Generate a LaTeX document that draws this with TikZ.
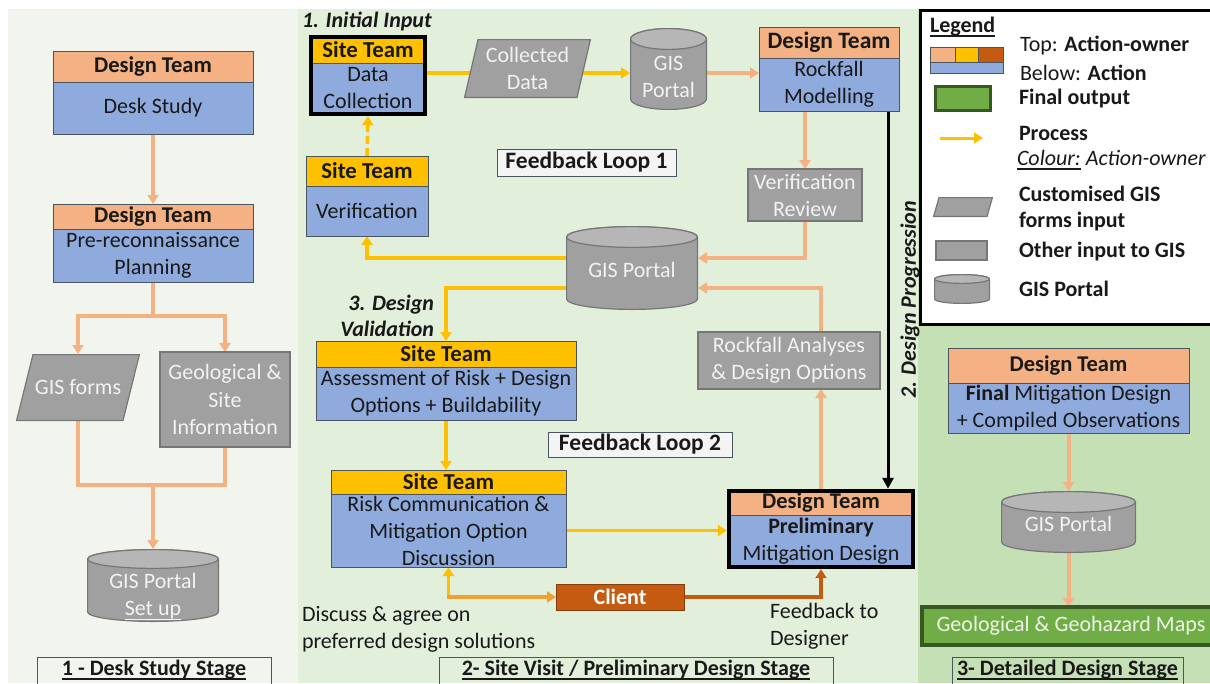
\documentclass[tikz,border=0pt]{standalone}
\usepackage{fontspec}
\setmainfont{Carlito}
\usetikzlibrary{arrows.meta,calc}

\pgfdeclarelayer{panels}
\pgfdeclarelayer{links}
\pgfsetlayers{panels,links,main}

\definecolor{ownerOrange}{HTML}{F4B183}
\definecolor{ownerYellow}{HTML}{FFC000}
\definecolor{ownerClient}{HTML}{C55A11}
\definecolor{clientEdge}{HTML}{843C0C}
\definecolor{actionBlue}{HTML}{8FAADC}
\definecolor{inputGray}{HTML}{A0A0A0}
\definecolor{inputEdge}{HTML}{767676}
\definecolor{portalTop}{HTML}{B6B6B6}
\definecolor{outputGreen}{HTML}{70AD47}
\definecolor{outputEdge}{HTML}{385723}
\definecolor{outputText}{HTML}{EEF5E8}
\definecolor{stageOne}{HTML}{F2F5EE}
\definecolor{stageTwo}{HTML}{E2EFDA}
\definecolor{stageThree}{HTML}{C5E0B4}
\definecolor{boxEdge}{HTML}{4A5560}
\definecolor{loopFill}{HTML}{F4F4F4}
\definecolor{lightText}{HTML}{F2F2F2}
\definecolor{mixFlow}{HTML}{F0A030}

% text block pushed down inside a shape without changing the node size
\newcommand\sunk[2]{\raisebox{#1}[0pt][0pt]{\begin{tabular}{@{}c@{}}#2\end{tabular}}}
\newcommand\lifted[2]{\raisebox{#1}[0pt][0pt]{#2}}
% underline at a fixed depth below the baseline
\newcommand\uln[1]{\setbox0=\hbox{#1}\rlap{\rule[-4.5pt]{\wd0}{1.5pt}}\box0\relax}

\tikzset{
  nodebase/.style={inner sep=0pt, outer sep=0pt, align=center, text=black!90,
    font=\fontsize{22}{27}\selectfont},
  sz/.style 2 args={minimum width=#1pt, minimum height=#2pt},
  owner/.style={nodebase, draw=boxEdge, line width=0.9pt,
    font=\bfseries\fontsize{22.5}{27}\selectfont},
  designer/.style={owner, fill=ownerOrange},
  siteteam/.style={owner, fill=ownerYellow, font=\bfseries\fontsize{22.8}{27}\selectfont},
  action/.style={nodebase, fill=actionBlue, draw=boxEdge, line width=0.9pt},
  grayinput/.style={nodebase, fill=inputGray, draw=inputEdge, line width=1.2pt, text=lightText},
  formshape/.style={nodebase, text=lightText,
    path picture={
      \filldraw[fill=inputGray, draw=inputEdge, line width=1.2pt]
        ([xshift=#1pt,yshift=-0.6pt]path picture bounding box.north west)
        -- ([xshift=-0.6pt,yshift=-0.6pt]path picture bounding box.north east)
        -- ([xshift=-#1pt,yshift=0.6pt]path picture bounding box.south east)
        -- ([xshift=0.6pt,yshift=0.6pt]path picture bounding box.south west) -- cycle;
    }},
  portal/.style 2 args={nodebase, text=lightText,
    path picture={
      \filldraw[fill=inputGray, draw=inputEdge, line width=1.2pt]
        ([xshift=0.6pt,yshift=-#2pt]path picture bounding box.north west)
        -- ([xshift=0.6pt,yshift=#2pt]path picture bounding box.south west)
        arc[start angle=180, end angle=360, x radius=0.5*#1-0.6, y radius=#2-0.6]
        -- ([xshift=-0.6pt,yshift=-#2pt]path picture bounding box.north east)
        arc[start angle=0, end angle=180, x radius=0.5*#1-0.6, y radius=#2-0.6]
        -- cycle;
      \filldraw[fill=portalTop, draw=inputEdge, line width=1.2pt]
        ([yshift=-#2pt]path picture bounding box.north)
        ellipse[x radius=0.5*#1-0.6, y radius=#2-0.6];
    }},
  keyframe/.style={draw=black, line width=4.5pt},
  loopbox/.style={nodebase, fill=loopFill, draw=boxEdge, line width=0.9pt,
    font=\bfseries\fontsize{23.5}{27}\selectfont},
  stagebox/.style={nodebase, draw=boxEdge, line width=0.9pt,
    font=\bfseries\fontsize{22}{27}\selectfont},
  clientbox/.style={nodebase, fill=ownerClient, draw=clientEdge, line width=1pt,
    text=white, font=\bfseries\fontsize{22}{27}\selectfont},
  output/.style={nodebase, fill=outputGreen, draw=outputEdge, line width=3.5pt, text=outputText},
  remark/.style={nodebase, font=\bfseries\itshape\fontsize{22}{26}\selectfont},
  note/.style={nodebase, align=left},
  legtext/.style={nodebase, anchor=west},
  swatch/.style={nodebase, draw=boxEdge, line width=0.6pt},
  flowO/.style={draw=ownerOrange, line width=4pt},
  flowY/.style={draw=ownerYellow, line width=3.6pt},
  mixflow/.style={draw=mixFlow, line width=3.6pt},
  clientflow/.style={draw=ownerClient, line width=3.6pt},
  arrowend/.style={-{Triangle[length=9pt,width=11pt]}},
}

\begin{document}
\begin{tikzpicture}[x=1pt,y=1pt]
\useasboundingbox (0,0) rectangle (1210,-683);
\clip (0,0) rectangle (1210,-683);

% stage panels
\begin{pgfonlayer}{panels}
  \fill[white] (0,0) rectangle (1210,-683);
  \fill[stageOne] (8,-9) rectangle (298,-683);
  \fill[stageTwo] (298,-9) rectangle (918,-683);
  \fill[stageThree] (918,-9) rectangle (1210,-683);
\end{pgfonlayer}

% ---------- stage 1: desk study ----------
\node[designer, sz={200}{31}] (p1h) at (153,-66.5) {Design Team};
\node[action, sz={200}{52}] (p1b) at (153,-108) {Desk Study};
\node[designer, sz={200}{25}] (p2h) at (153,-216.5) {Design Team};
\node[action, sz={200}{53}] (p2b) at (153,-255.5) {Pre-reconnaissance\\Planning};
\node[formshape=17, sz={124}{67}] (gisf) at (78,-387.5) {GIS forms};
\node[grayinput, sz={130}{95}, font=\fontsize{22}{27.5}\selectfont] (geo) at (225,-399.5)
  {Geological \&\\Site\\Information};
\node[portal={132}{10}, sz={132}{73}] (p1gis) at (153,-585.5)
  {\sunk{-16.5pt}{GIS Portal\\\uln{Set up}}};
\node[stagebox, sz={234}{33}] (stage1) at (154,-673.5)
  {\lifted{-1.5pt}{\uln{1 - Desk Study Stage}}};

% ---------- stage 2: site visit / preliminary design ----------
\node[remark, anchor=west] (init) at (302,-22) {1. Initial Input};
\node[siteteam, sz={114}{26}] (dch) at (368,-50) {Site Team};
\node[action, sz={114}{51}] (dcb) at (368,-88.5) {Data\\Collection};
\draw[keyframe] (dch.north west) rectangle (dcb.south east);
\node[formshape=14, sz={127}{59}] (cdata) at (527.5,-68.5) {Collected\\Data};
\node[portal={77}{11}, sz={77}{82}] (gis1) at (668.5,-69) {\sunk{-15pt}{GIS\\Portal}};
\node[designer, sz={140}{31}, font=\bfseries\fontsize{23.5}{27}\selectfont] (rmh) at (829,-42.5) {Design Team};
\node[action, sz={140}{53}] (rmb) at (829,-84.5) {Rockfall\\Modelling};
\node[loopbox, sz={179}{27}] (loop1) at (586.5,-162.5) {Feedback Loop 1};
\node[grayinput, sz={114}{52}] (vrev) at (805,-195) {Verification\\Review};
\node[siteteam, sz={122}{30}] (vh) at (367,-171) {Site Team};
\node[action, sz={122}{50}] (vb) at (367,-211) {Verification};
\node[portal={132}{11}, sz={132}{84}] (gis2) at (632,-268) {\sunk{-9.5pt}{GIS Portal}};
\node[remark, anchor=east, align=right] (valid) at (434,-316) {3. Design\\Validation};
\node[siteteam, sz={260}{26}] (ash) at (446,-354) {Site Team};
\node[action, sz={260}{53}] (asb) at (446,-393.5) {Assessment of Risk + Design\\Options + Buildability};
\node[loopbox, sz={184}{25}] (loop2) at (640,-444.5) {Feedback Loop 2};
\node[grayinput, sz={182}{57}] (rfa) at (789,-360.5) {Rockfall Analyses\\\& Design Options};
\node[siteteam, sz={235}{24}] (rch) at (448.5,-482) {Site Team};
\node[action, sz={235}{73}] (rcb) at (448.5,-530.5) {Risk Communication \&\\Mitigation Option\\Discussion};
\node[designer, sz={184}{24}] (prh) at (821,-503) {Design Team};
\node[action, sz={184}{52}] (prb) at (821,-541) {\textbf{Preliminary}\\Mitigation Design};
\draw[keyframe] (prh.north west) rectangle (prb.south east);
\node[clientbox, sz={128}{26}] (client) at (620,-597) {Client};
\node[note, anchor=west] (agree) at (302,-629.5) {Discuss \& agree on\\preferred design solutions};
\node[note, anchor=west] (fback) at (770,-626.5) {Feedback to\\Designer};
\node[stagebox, sz={394}{33}] (stage2) at (636,-673.5)
  {\lifted{-1.5pt}{\uln{2- Site Visit / Preliminary Design Stage}}};
\node[remark, rotate=90] (prog) at (910,-300) {2. Design Progression};

% ---------- stage 3: detailed design ----------
\node[designer, sz={241}{35}] (fmh) at (1068.5,-365.5) {Design Team};
\node[action, sz={241}{50}] (fmb) at (1068.5,-408) {\textbf{Final} Mitigation Design\\+ Compiled Observations};
\node[portal={135}{11}, sz={135}{62}] (gis3) at (1068.5,-522) {\sunk{-9.5pt}{GIS Portal}};
\node[output, sz={298}{38}] (maps) at (1071,-626) {Geological \& Geohazard Maps};
\node[stagebox, sz={231}{33}] (stage3) at (1067.5,-673.5)
  {\lifted{-1.5pt}{\uln{3- Detailed Design Stage}}};

% ---------- legend ----------
\node[draw=black, line width=3pt, fill=white, sz={295}{314}] (legend) at (1067.5,-167) {};
\node[legtext, font=\bfseries\fontsize{22}{27}\selectfont] (legt) at (930,-27) {\uln{Legend}};
\node[swatch, fill=ownerOrange, sz={25}{15}] (sw1) at (942.5,-54.5) {};
\node[swatch, fill=ownerYellow, sz={23}{15}] (sw2) at (966.5,-54.5) {};
\node[swatch, fill=ownerClient, sz={25}{15}] (sw3) at (990.5,-54.5) {};
\node[swatch, fill=actionBlue, sz={73}{11}] (sw4) at (966.5,-67.5) {};
\node[output, line width=3pt, sz={55}{24}] (swg) at (962.5,-98) {};
\coordinate (la1) at (940,-138);
\coordinate (la2) at (983,-138);
\draw[flowY, line width=3pt, arrowend] (la1) -- (la2);
\node[formshape=6, sz={60}{20}] (swp) at (963,-207) {};
\node[grayinput, sz={51}{19}] (swr) at (961.5,-250.5) {};
\node[portal={56}{5}, sz={56}{30}] (swc) at (962,-289) {};
\node[legtext] (lt1) at (1020,-46) {Top: \textbf{Action-owner}};
\node[legtext] (lt2) at (1020,-73) {Below: \textbf{Action}};
\node[legtext] (lt3) at (1019,-99) {\textbf{Final output}};
\node[legtext] (lt4) at (1019,-133) {\textbf{Process}};
\node[legtext] (lt5) at (1017,-160) {\itshape\uln{Colour:} Action-owner};
\node[legtext] (lt6) at (1019,-194) {\textbf{Customised GIS}};
\node[legtext] (lt7) at (1019,-222) {\textbf{forms input}};
\node[legtext] (lt8) at (1019,-252) {\textbf{Other input to GIS}};
\node[legtext] (lt9) at (1019,-289) {\textbf{GIS Portal}};

% ---------- connectors ----------
\begin{pgfonlayer}{links}
  % stage 1
  \draw[flowO, arrowend] (p1b.south) -- (p2h.north);
  \coordinate (split) at ($(p2b.south)+(0,-34)$);
  \draw[flowO, arrowend] (p2b.south) -- (split) -| (gisf.north);
  \draw[flowO, arrowend] (split) -| (geo.north);
  \coordinate (merge) at ($(p1gis.north)+(0,64)$);
  \draw[flowO] (gisf.south) |- (merge);
  \draw[flowO] (geo.south) |- (merge);
  \draw[flowO, arrowend] (merge) -- (p1gis.north);

  % stage 2
  \coordinate (row1) at (0,-73);
  \draw[flowY] (dcb.center |- row1) -- (cdata.center |- row1);
  \draw[flowY, arrowend] (cdata.center |- row1) -- (gis1.west |- row1);
  \draw[flowO, arrowend] (gis1.center |- row1) -- (rmb.west |- row1);
  \draw[flowO, arrowend] (vrev.north |- rmb.south) -- (vrev.north);
  \coordinate (rowA) at (0,-258);
  \coordinate (rowB) at (0,-288);
  \draw[flowO, arrowend] (vrev.south) |- (gis2.east |- rowA);
  \draw[flowO, arrowend] (prh.north) -- (prh.north |- rfa.south);
  \draw[flowO, arrowend] (prh.north |- rfa.north) |- (gis2.east |- rowB);
  \draw[flowY, arrowend] (gis2.center |- rowA) -| (vb.south);
  \draw[flowY, arrowend, dash pattern=on 8pt off 4pt] (vh.north) -- ([yshift=-2.2pt]dcb.south);
  \draw[flowY, arrowend] (gis2.center |- rowB) -| (ash.north);
  \draw[flowY, arrowend] (asb.south) -- (asb.south |- rch.north);
  \coordinate (prIn) at ([xshift=-2.2pt]prb.west);
  \draw[flowY, arrowend] (rcb.east) -- (rcb.east -| prIn);
  \coordinate (askC) at (rcb.south |- client.west);
  \draw[flowY, arrowend, line cap=rect] (askC) -- (rcb.south);
  \draw[mixflow, arrowend, line cap=rect] (askC) -- (client.west);
  \coordinate (prOut) at ([yshift=-2.2pt]prb.south);
  \draw[clientflow, arrowend] (client.east) -| (prOut);
  \coordinate (dpTop) at ([xshift=-11pt]rmb.south east);
  \coordinate (dpEnd) at ([yshift=2.2pt]prh.north);
  \draw[line width=3pt, -{Triangle[length=11pt,width=11pt]}] (dpTop) -- (dpTop |- dpEnd);

  % stage 3
  \draw[flowO, arrowend] (fmb.south) -- (gis3.north);
  \draw[flowO, arrowend] (gis3.south) -- (gis3.south |- maps.north);
\end{pgfonlayer}
\end{tikzpicture}
\end{document}
